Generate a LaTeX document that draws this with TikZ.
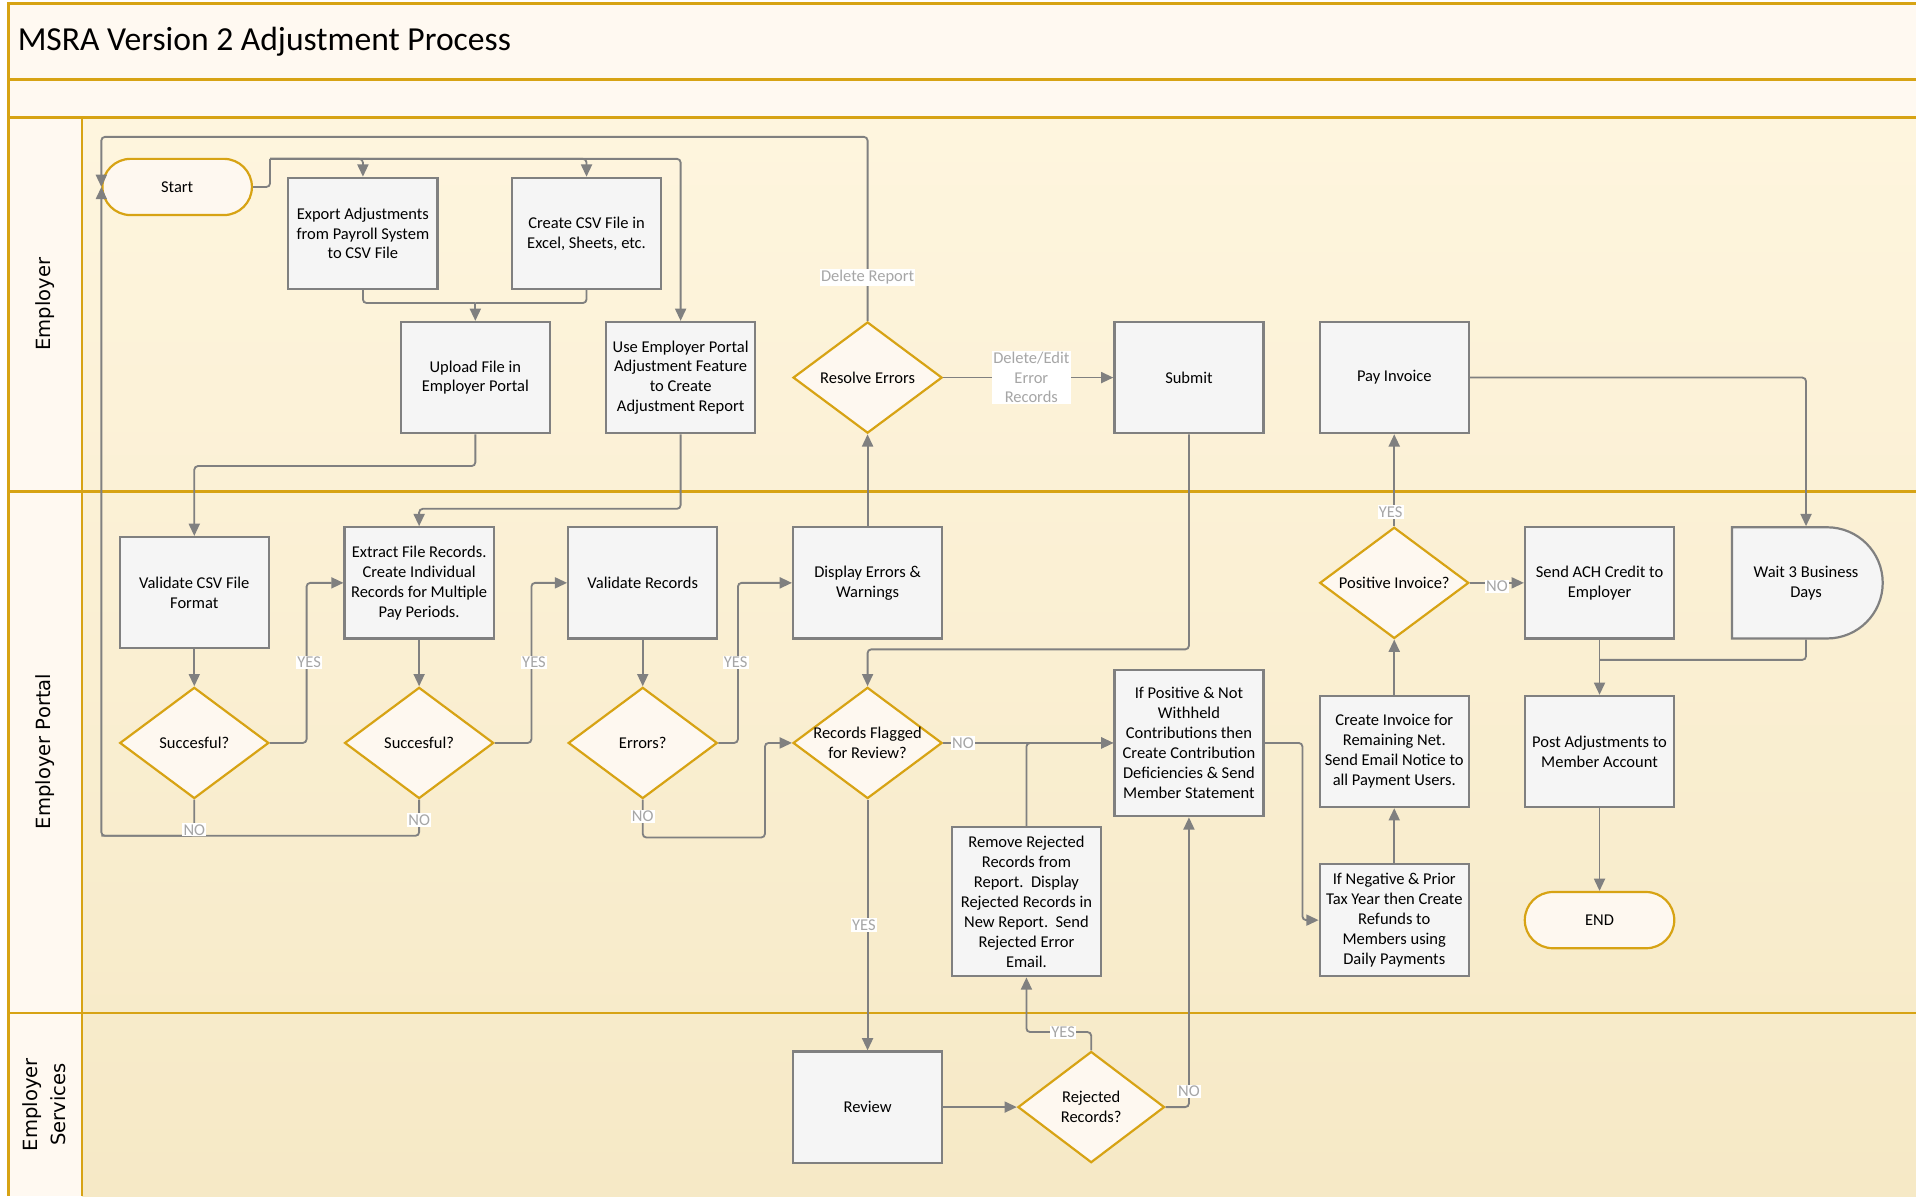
\documentclass[tikz,border=0pt]{standalone}
\usepackage{fontspec}
\setmainfont{Carlito}
\newfontfamily\swimfamily{DejaVu Sans}
\usetikzlibrary{arrows.meta,shapes.geometric,shapes.misc}

\definecolor{gold}{RGB}{215,163,20}
\definecolor{headfill}{RGB}{255,249,241}
\definecolor{lanetop}{RGB}{254,245,222}
\definecolor{lanebot}{RGB}{246,233,198}
\definecolor{boxfill}{RGB}{245,245,245}
\definecolor{boxline}{RGB}{128,128,128}
\definecolor{decfill}{RGB}{254,248,240}
\definecolor{tagtext}{RGB}{166,166,166}

\newcommand\flowfont{\fontsize{13.5}{16.3}\selectfont}
\newcommand\tagfont{\fontsize{13.5}{16}\selectfont}
\newcommand\swimfont{\swimfamily\fontsize{16}{23}\selectfont}

\begin{document}
\begin{tikzpicture}[x=1pt,y=-1pt,
    box/.style={draw=boxline,fill=boxfill,line width=1.8pt,minimum width=122pt,minimum height=91pt,align=center,inner sep=2pt,font=\flowfont},
    dec/.style={diamond,draw=gold,fill=decfill,line width=1.8pt,minimum width=122pt,minimum height=91pt,inner sep=0pt},
    dectext/.style={align=center,font=\flowfont},
    term/.style={rounded rectangle,draw=gold,fill=decfill,line width=1.8pt,minimum width=129pt,minimum height=46pt,font=\flowfont},
    lane/.style={draw=gold,line width=2.2pt},
    conn/.style={draw=boxline,line width=1.5pt,rounded corners=3pt},
    arr/.style={conn,-{Triangle[width=9pt,length=10pt]}},
    lbl/.style={fill=white,text=tagtext,font=\tagfont,inner sep=1pt,align=center}]
        \useasboundingbox (0,0) rectangle (1568,979);

        %%%%%%%%% Lanes %%%%%%%%%%
        \fill[headfill] (7,3) rectangle (1568,96);
        \shade[top color=lanetop,bottom color=lanebot] (67,96) rectangle (1568,979);
        \fill[headfill] (7,96) rectangle (67,979);
        \draw[lane] (1568,3) -- (7,3) -- (7,979);
        \draw[lane] (7,65) -- (1568,65);
        \draw[lane] (7,96) -- (1568,96);
        \draw[lane] (7,402) -- (1568,402);
        \draw[lane] (7,829) -- (1568,829);
        \draw[lane] (67,96) -- (67,979);

        \node[anchor=west,font=\fontsize{27.5}{32}\selectfont] (Title) at (11,34) {MSRA Version 2 Adjustment Process};
        \node[rotate=90,font=\swimfont] (LaneEmp) at (37,249) {Employer};
        \node[rotate=90,font=\swimfont] (LanePortal) at (37,615) {Employer Portal};
        \node[rotate=90,font=\swimfont,align=center] (LaneServ) at (36,904) {Employer\\Services};

        %%%%%%%% Employer %%%%%%%%%
        \node[term] (Start) at (145,153) {Start};
        \node[box] (Export) at (297,191) {Export Adjustments\\from Payroll System\\to CSV File};
        \node[box] (CsvFile) at (480,191) {Create CSV File in\\Excel, Sheets, etc.};
        \node[box] (Upload) at (389,309) {Upload File in\\Employer Portal};
        \node[box] (Portal) at (557,309) {Use Employer Portal\\Adjustment Feature\\to Create\\Adjustment Report};
        \node[dec,label={[dectext]center:Resolve Errors}] (Resolve) at (710,309) {};
        \node[box] (Submit) at (973,309) {Submit};
        \node[box] (PayInv) at (1141,309) {Pay Invoice};

        %%%%%%% Employer Portal %%%%%%%
        \node[box] (ValCsv) at (159,485) {Validate CSV File\\Format};
        \node[box] (Extract) at (343,477) {Extract File Records.\\Create Individual\\Records for Multiple\\Pay Periods.};
        \node[box] (ValRec) at (526,477) {Validate Records};
        \node[box] (Display) at (710,477) {Display Errors \&\\Warnings};
        \node[dec,label={[dectext]center:Succesful?}] (Succ1) at (159,608) {};
        \node[dec,label={[dectext]center:Succesful?}] (Succ2) at (343,608) {};
        \node[dec,label={[dectext]center:Errors?}] (Err) at (526,608) {};
        \node[dec,label={[dectext]center:Records Flagged\\for Review?}] (Flagged) at (710,608) {};
        \node[box,minimum height=120pt] (IfPos) at (973,608) {If Positive \& Not\\Withheld\\Contributions then\\Create Contribution\\Deficiencies \& Send\\Member Statement};
        \node[box,minimum height=122pt] (Remove) at (840,738) {Remove Rejected\\Records from\\Report.\ \ Display\\Rejected Records in\\New Report.\ \ Send\\Rejected Error\\Email.};
        \node[dec,label={[dectext]center:Positive Invoice?}] (PosInv) at (1141,477) {};
        \node[box] (CreateInv) at (1141,615) {Create Invoice for\\Remaining Net.\\Send Email Notice to\\all Payment Users.};
        \node[box,minimum height=92pt] (IfNeg) at (1141,753) {If Negative \& Prior\\Tax Year then Create\\Refunds to\\Members using\\Daily Payments};
        \node[box] (Ach) at (1309,477) {Send ACH Credit to\\Employer};
        \node[rounded rectangle,rounded rectangle left arc=none,draw=boxline,fill=boxfill,line width=1.8pt,minimum width=130pt,minimum height=91pt,align=center,font=\flowfont] (Wait) at (1478,477) {Wait 3 Business\\Days};
        \node[box] (PostAdj) at (1309,615) {Post Adjustments to\\Member Account};
        \node[term] (End) at (1309,753) {END};

        %%%%%% Employer Services %%%%%%
        \node[box] (Review) at (710,906) {Review};
        \node[dec,minimum width=120pt,label={[dectext]center:Rejected\\Records?}] (Rejected) at (893,906) {};

        %%%%%%%%% Links %%%%%%%%%%
        \coordinate (Split) at (221,130);
        \coordinate (Merge) at (389,248);
        \path (Start.west) ++(0,-41) coordinate (LoopTop);
        \path (Start.west) ++(0,531) coordinate (LoopBot);
        \coordinate (AchJoin) at (1309,540);

        \draw[conn] (Start.east) -| (Split);
        \draw[arr] (Split) -| (Portal.north);
        \draw[arr] (Split) -| (Export.north);
        \draw[arr] (Split) -| (CsvFile.north);
        \draw[conn] (Export.south) |- (Merge);
        \draw[conn] (CsvFile.south) |- (Merge);
        \draw[arr] (Merge) -- (Upload.north);
        \draw[arr] (Upload.south) -- ++(0,26) -| (ValCsv.north);
        \draw[arr] (Portal.south) -- ++(0,61) -| (Extract.north);
        \draw[arr] (ValCsv.south) -- (Succ1.north);
        \draw[arr] (Succ1.east) -- ++(30,0) |- (Extract.west);
        \draw[arr] (Succ1.south) |- (LoopBot) -- (Start.west);
        \draw[conn] (Succ2.south) |- (LoopBot);
        \draw[arr] (Resolve.north) |- (LoopTop) -- (Start.west);
        \draw[arr] (Extract.south) -- (Succ2.north);
        \draw[arr] (Succ2.east) -- ++(30,0) |- (ValRec.west);
        \draw[arr] (ValRec.south) -- (Err.north);
        \draw[arr] (Err.east) -- ++(16,0) |- (Display.west);
        \draw[arr] (Err.south) -- ++(0,31) -- ++(100,0) |- (Flagged.west);
        \draw[arr] (Display.north) -- (Resolve.south);
        \draw[arr] (Resolve.east) -- (Submit.west);
        \draw[arr] (Submit.south) -- ++(0,176) -| (Flagged.north);
        \draw[arr] (Flagged.east) -- (IfPos.west);
        \draw[arr] (Remove.north) |- (IfPos.west);
        \draw[arr] (Flagged.south) -- (Review.north);
        \draw[arr] (Review.east) -- (Rejected.west);
        \draw[arr] (Rejected.north) -- ++(0,-15) -| (Remove.south);
        \draw[arr] (Rejected.east) -| (IfPos.south);
        \draw[arr] (IfPos.east) -- ++(31,0) |- (IfNeg.west);
        \draw[arr] (IfNeg.north) -- (CreateInv.south);
        \draw[arr] (CreateInv.north) -- (PosInv.south);
        \draw[arr] (PosInv.north) -- (PayInv.south);
        \draw[arr] (PosInv.east) -- (Ach.west);
        \draw[arr] (PayInv.east) -| (Wait.north);
        \draw[arr] (Ach.south) -- (PostAdj.north);
        \draw[conn] (Wait.south) |- (AchJoin);
        \draw[arr] (PostAdj.south) -- (End.north);

        %%%%%%%%% Labels %%%%%%%%%
        \node[lbl] (DelRep) at (710,227) {Delete Report};
        \node[lbl] (DelEdit) at (844,309) {Delete/Edit\\Error\\Records};
        \node[lbl] (Yes1) at (253,542) {YES};
        \node[lbl] (Yes2) at (437,542) {YES};
        \node[lbl] (Yes3) at (602,542) {YES};
        \node[lbl] (Yes4) at (707,757) {YES};
        \node[lbl] (Yes5) at (1138,419) {YES};
        \node[lbl] (Yes6) at (870,845) {YES};
        \node[lbl] (No1) at (159,679) {NO};
        \node[lbl] (No2) at (343,671) {NO};
        \node[lbl] (No3) at (526,668) {NO};
        \node[lbl] (No4) at (788,608) {NO};
        \node[lbl] (No5) at (1225,480) {NO};
        \node[lbl] (No6) at (973,893) {NO};
    \end{tikzpicture}
\end{document}
